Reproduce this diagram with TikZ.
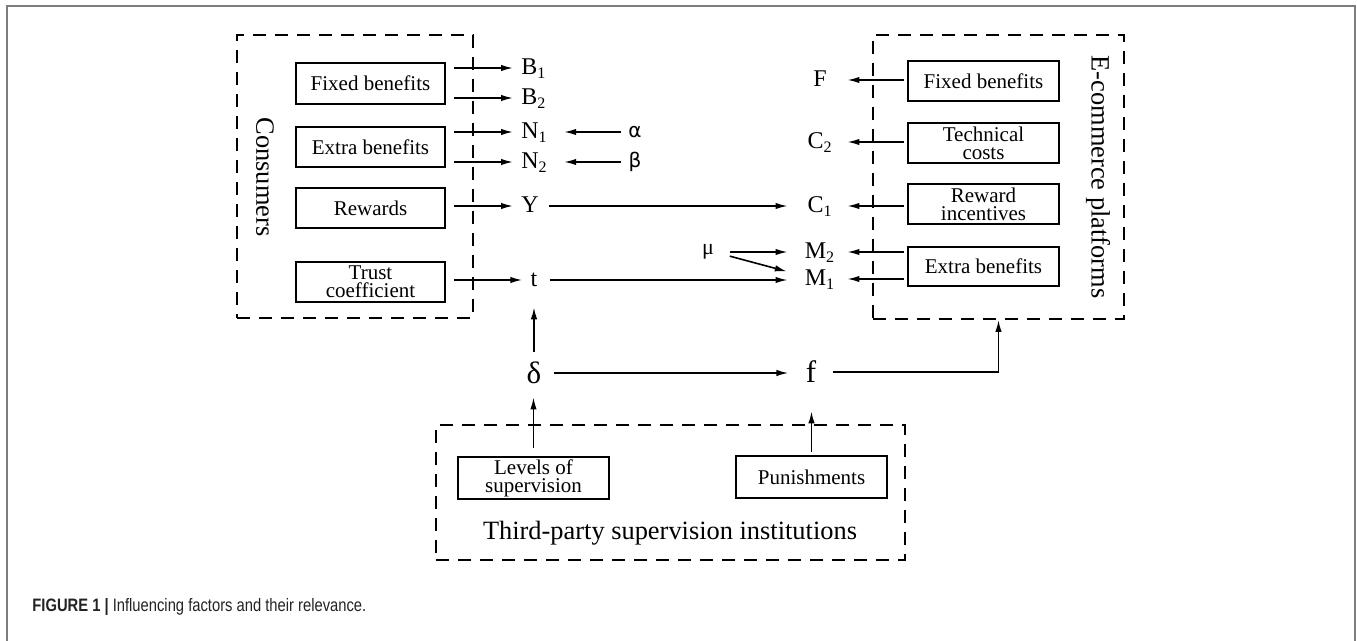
\documentclass[tikz,border=0pt]{standalone}
\usepackage{fontspec}
\setmainfont{Liberation Serif}
\newfontfamily\capfont{Liberation Sans}
\newfontfamily\dvfont{DejaVu Sans}
\usetikzlibrary{arrows.meta,calc}
\definecolor{framegray}{RGB}{125,125,125}
\definecolor{capcol}{RGB}{35,35,35}
\begin{document}
\begin{tikzpicture}[x=0.5pt,y=-0.5pt,
  ibox/.style={draw,line width=1pt,inner sep=0pt,align=center,font=\fontsize{10.5}{9}\selectfont},
  dbox/.style={draw,line width=1pt,dash pattern=on 6.5pt off 4.5pt,inner sep=0pt},
  big/.style={font=\fontsize{13.2}{15}\selectfont},
  lbl/.style={inner sep=0pt,font=\fontsize{12}{14}\selectfont,text height=1.5ex,text depth=0pt},
  rlbl/.style={lbl,minimum width=27pt},
  greek/.style={inner sep=0pt,font=\fontsize{15.5}{17}\selectfont},
  arr/.style={line width=0.8pt,-{Latex[length=6pt,width=3.2pt]}},
  ln/.style={line width=0.8pt}]
\useasboundingbox (0,0) rectangle (1357,641);
% outer frame
\draw[framegray,line width=1pt] (7,641) -- (7,6) -- (1355,6) -- (1355,641);
\node[anchor=west,inner sep=0pt,text=capcol,font=\capfont\fontsize{9}{11}\selectfont] (cap) at (32,607)
  {\scalebox{0.82}[1]{\textbf{FIGURE 1 |} Influencing factors and their relevance.}};

% Consumers
\node[dbox,minimum width=118pt,minimum height=141.5pt] (cons) at (355,176.5) {};
\node[big,rotate=-90] (consl) at (265,177) {Consumers};
\node[ibox,minimum width=74.5pt,minimum height=20.5pt] (cfb) at (370.5,83.5) {Fixed benefits};
\node[ibox,minimum width=74.5pt,minimum height=20pt] (ceb) at (370.5,147) {Extra benefits};
\node[ibox,minimum width=74.5pt,minimum height=20pt] (crw) at (370.5,208) {Rewards};
\node[ibox,minimum width=74.5pt,minimum height=20pt] (ctc) at (370.5,282) {Trust\\coefficient};

% E-commerce platforms
\node[dbox,minimum width=125.5pt,minimum height=142pt] (ecom) at (998.5,177) {};
\node[big,rotate=-90] (ecoml) at (1098,177) {E-commerce platforms};
\node[ibox,minimum width=75.5pt,minimum height=20pt] (efb) at (983.5,81) {Fixed benefits};
\node[ibox,minimum width=75.5pt,minimum height=20pt] (etc) at (983.5,143) {Technical\\costs};
\node[ibox,minimum width=75.5pt,minimum height=20pt] (eri) at (983.5,204) {Reward\\incentives};
\node[ibox,minimum width=75.5pt,minimum height=19.5pt] (eeb) at (983.5,266.5) {Extra benefits};

% Third-party
\node[dbox,minimum width=234.5pt,minimum height=67.5pt] (third) at (670.5,492.5) {};
\node[big] (thirdl) at (670,533) {Third-party supervision institutions};
\node[ibox,minimum width=75.5pt,minimum height=21pt] (lev) at (533.5,478) {Levels of\\supervision};
\node[ibox,minimum width=75.5pt,minimum height=21pt] (pun) at (811.5,477) {Punishments};

% left labels
\node[lbl,anchor=west] (B1) at (521,68) {B\textsubscript{1}};
\node[lbl,anchor=west] (B2) at (521,98) {B\textsubscript{2}};
\node[lbl,anchor=west] (N1) at (521,132) {N\textsubscript{1}};
\node[lbl,anchor=west] (N2) at (521,162) {N\textsubscript{2}};
\node[lbl,anchor=west] (Y) at (521,206) {Y};
\node[lbl] (t) at (534,280) {t};
\node[inner sep=0pt,font=\dvfont\fontsize{10}{12}\selectfont] (al) at (635,132) {α};
\node[inner sep=0pt,font=\dvfont\fontsize{10}{12}\selectfont] (be) at (635,162) {β};

% right labels
\node[rlbl] (F) at (820,80) {F};
\node[rlbl] (C2) at (820,142) {C\textsubscript{2}};
\node[rlbl] (C1) at (820,206) {C\textsubscript{1}};
\node[rlbl] (M2) at (820,252) {M\textsubscript{2}};
\node[rlbl] (M1) at (820,279) {M\textsubscript{1}};
\node[inner sep=0pt,font=\fontsize{11}{13}\selectfont] (mu) at (708,252) {μ};

% delta, f
\node[greek] (de) at (534,373) {δ};
\node[greek] (f) at (811,372) {f};

% consumer arrows
\foreach \b/\l in {cfb/B1,cfb/B2,ceb/N1,ceb/N2,crw/Y,ctc/t}
  \draw[arr,shorten <=4pt,shorten >=4pt] (\b.east |- \l) -- (\l.west);
\draw[arr,shorten <=3.5pt,shorten >=8pt] (al.west) -- (al -| N1.east);
\draw[arr,shorten <=3.5pt,shorten >=8pt] (be.west) -- (be -| N2.east);

% platform arrows
\foreach \b/\l in {efb/F,etc/C2,eri/C1,eeb/M2,eeb/M1}
  \draw[arr,shorten <=1.5pt] (\b.west |- \l) -- (\l.east);

% cross arrows
\draw[arr,shorten <=5pt,shorten >=2.5pt] (Y.east) -- (Y -| C1.west);
\draw[arr,shorten <=6pt,shorten >=2.5pt] (t.east) -- (t -| M1.west);
\draw[arr,shorten <=8pt,shorten >=2.5pt] (mu.east) -- (mu -| M2.west);
\draw[arr,shorten <=8pt,shorten >=3pt] (mu.east) -- ($(M1.west)+(0,-6)$);

% bottom
\draw[arr,shorten <=5pt,shorten >=10pt] (de.north) -- (de |- t.south);
\draw[arr,shorten <=4pt,shorten >=6.5pt] (lev.north) -- (lev |- de.south);
\draw[arr,shorten <=1.5pt,shorten >=14pt] (pun.north) -- (pun |- f.south);
\draw[arr,shorten <=6pt,shorten >=8.5pt] (de.east) -- (de -| f.west);
\draw[arr,shorten <=8pt] (f.east) -| (ecom.south);
\end{tikzpicture}
\end{document}
